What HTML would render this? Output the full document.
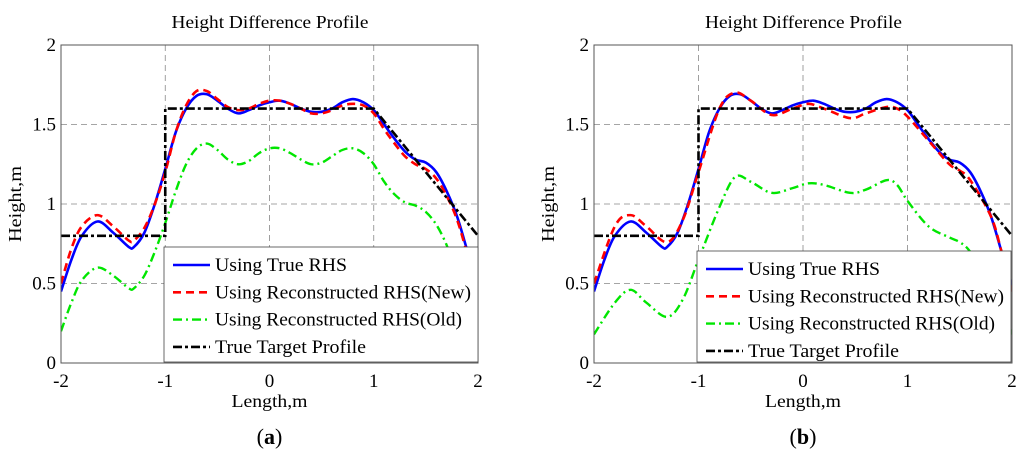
<!DOCTYPE html>
<html><head><meta charset="utf-8"><style>
body{margin:0;background:#fff;}
svg{display:block;font-family:"Liberation Serif",serif;}
</style></head><body>
<svg id="fig" width="1024" height="453" viewBox="0 0 1024 453"></svg>
<script>
const xTicks=[-2,-1,0,1,2];
const yTicks=[0,0.5,1,1.5,2];
const yTickLabels=["0","0.5","1","1.5","2"];
const xTickLabels=["-2","-1","0","1","2"];
const xsA=[-2,-1.9,-1.8,-1.65,-1.5,-1.35,-1.3,-1.2,-1.1,-1,-0.9,-0.8,-0.7,-0.6,-0.5,-0.4,-0.3,-0.2,-0.1,0,0.1,0.2,0.3,0.4,0.5,0.6,0.7,0.8,0.9,1,1.1,1.2,1.3,1.4,1.5,1.6,1.7,1.8,1.9,2];
const blueA=[0.45,0.65,0.8,0.89,0.82,0.73,0.73,0.82,1.0,1.22,1.45,1.6,1.68,1.69,1.65,1.6,1.57,1.59,1.62,1.64,1.65,1.63,1.6,1.58,1.58,1.6,1.64,1.66,1.64,1.59,1.5,1.41,1.33,1.28,1.26,1.2,1.08,0.92,0.7,0.48];
const redA=[0.5,0.72,0.86,0.93,0.86,0.77,0.77,0.85,1.0,1.2,1.45,1.62,1.71,1.71,1.66,1.61,1.59,1.6,1.63,1.65,1.65,1.63,1.6,1.57,1.57,1.59,1.62,1.63,1.62,1.57,1.47,1.38,1.3,1.25,1.22,1.16,1.05,0.9,0.68,0.46];
const greenA=[0.2,0.38,0.52,0.6,0.55,0.47,0.47,0.55,0.7,0.88,1.08,1.25,1.35,1.38,1.34,1.28,1.25,1.27,1.32,1.35,1.35,1.32,1.28,1.25,1.26,1.3,1.34,1.35,1.32,1.25,1.14,1.06,1.01,0.99,0.95,0.87,0.74,0.55,0.38,0.24];
const xsB=[-2,-1.8,-1.65,-1.5,-1.3,-1.15,-1,-0.8,-0.65,-0.5,-0.3,-0.1,0.05,0.2,0.45,0.6,0.8,0.9,1,1.2,1.4,1.5,1.6,1.8,1.9,2];
const redB=[0.5,0.86,0.93,0.86,0.76,0.9,1.2,1.6,1.7,1.65,1.56,1.6,1.63,1.6,1.54,1.57,1.61,1.6,1.55,1.4,1.25,1.21,1.15,0.92,0.7,0.45];
const greenB=[0.18,0.38,0.46,0.38,0.29,0.4,0.65,0.98,1.17,1.14,1.07,1.1,1.13,1.12,1.07,1.09,1.15,1.12,1.02,0.86,0.79,0.76,0.7,0.5,0.4,0.18];
const targetX=[-2,-1,-1,1,2];
const targetY=[0.8,0.8,1.6,1.6,0.8];
const legendLabels=["Using True RHS","Using Reconstructed RHS(New)","Using Reconstructed RHS(Old)","True Target Profile"];
const legendWidths=[132,256,247,151];

const NS="http://www.w3.org/2000/svg";
const svg=document.getElementById('fig');
function mk(tag,attrs,parent){const e=document.createElementNS(NS,tag);for(const k in attrs)e.setAttribute(k,attrs[k]);(parent||svg).appendChild(e);return e;}
function smooth(pts){let d="M"+pts[0][0]+","+pts[0][1];for(let i=0;i<pts.length-1;i++){const p0=pts[Math.max(0,i-1)],p1=pts[i],p2=pts[i+1],p3=pts[Math.min(pts.length-1,i+2)];const c1=[p1[0]+(p2[0]-p0[0])/6,p1[1]+(p2[1]-p0[1])/6],c2=[p2[0]-(p3[0]-p1[0])/6,p2[1]-(p3[1]-p1[1])/6];d+=" C"+c1+" "+c2+" "+p2;}return d;}

function panel(id,L,R,T,B,series,legBox,label){
  const g=mk('g',{});
  
  
  const sx=v=>L+(v+2)/4*(R-L), sy=v=>B-v/2*(B-T);
  const clip=mk('clipPath',{id:'clip'+id},g);mk('rect',{x:L,y:T,width:R-L,height:B-T},clip);
  const t=mk('text',{x:(L+R)/2-98,y:28,'font-size':18,textLength:197,lengthAdjust:'spacingAndGlyphs'},g);t.textContent="Height Difference Profile";
  
  xTicks.forEach((v,i)=>{
    if(i>0&&i<4){const l=mk('line',{x1:sx(v),x2:sx(v),y1:T,y2:B,stroke:'#888','stroke-dasharray':'6,4','stroke-width':0.8},g);}
    const tx=mk('text',{x:sx(v),y:B+24,'text-anchor':'middle','font-size':19},g);tx.textContent=xTickLabels[i];
    
  });
  yTicks.forEach((v,i)=>{
    if(i>0&&i<4){const l=mk('line',{x1:L,x2:R,y1:sy(v),y2:sy(v),stroke:'#888','stroke-dasharray':'6,4','stroke-width':0.8},g);}
    const ty=mk('text',{x:L-5,y:sy(v)+6,'text-anchor':'end','font-size':19},g);ty.textContent=yTickLabels[i];
    
  });
  const cg=mk('g',{'clip-path':'url(#clip'+id+')'},g);
  series.forEach(s=>{
    const pts=s.x.map((v,i)=>[sx(v),sy(s.y[i])]);
    const d=s.step?("M"+pts.map(p=>p.join(',')).join(' L')):smooth(pts);
    const p=mk('path',{d:d,fill:'none',stroke:s.c,'stroke-width':s.w,'stroke-dasharray':s.dash||'none'},cg);
    
  });
  const ax=mk('rect',{x:L,y:T,width:R-L,height:B-T,fill:'none',stroke:'#555','stroke-width':1},g);
  
  const lg=mk('g',{},g);
  mk('rect',{x:legBox[0],y:legBox[1],width:legBox[2],height:legBox[3],fill:'#fff',stroke:'#444','stroke-width':0.8},lg);
  [0,1,2,3].forEach(i=>{
    const s=series[i];const yy=legBox[1]+18+i*27.3;
    mk('line',{x1:legBox[0]+9,x2:legBox[0]+46,y1:yy,y2:yy,stroke:s.c,'stroke-width':s.w,'stroke-dasharray':s.dash||'none'},lg);
    const tt=mk('text',{x:legBox[0]+51,y:yy+6,'font-size':19,textLength:legendWidths[i],lengthAdjust:'spacingAndGlyphs'},lg);tt.textContent=legendLabels[i];
    
  });
  const xl=mk('text',{x:(L+R)/2-38,y:B+44,'font-size':18,textLength:76,lengthAdjust:'spacingAndGlyphs'},g);xl.textContent="Length,m";
  
  const yl=mk('text',{x:-38,y:0,'font-size':18,textLength:76,lengthAdjust:'spacingAndGlyphs',transform:'translate('+(L-40)+','+((T+B)/2)+') rotate(-90)'},g);yl.textContent="Height,m";
  
  const pl=mk('text',{x:(L+R)/2,y:444,'text-anchor':'middle','font-size':22},g);
  pl.innerHTML='(<tspan font-weight="bold">'+label+'</tspan>)';
  
}
const mkSeries=(xs,blue,red,green)=>[
  {x:xsA,y:blueA,c:'#0000ff',w:2.6,name:'true-rhs-line'},
  {x:xs,y:red,c:'#ff0000',w:2.6,dash:'8,5',name:'reconstructed-new-line'},
  {x:xs,y:green,c:'#00e600',w:2.4,dash:'9,4,2,4',name:'reconstructed-old-line'},
  {x:targetX,y:targetY,c:'#000',w:2.6,dash:'9,3,3,3',step:true,name:'target-profile-line'}];
panel('a',61,478,45,363,mkSeries(xsA,blueA,redA,greenA),[164,247,314,115],'a');
panel('b',594,1012,45,363,mkSeries(xsB,blueA,redB,greenB),[697,251,314,111],'b');
</script>
</body></html>
